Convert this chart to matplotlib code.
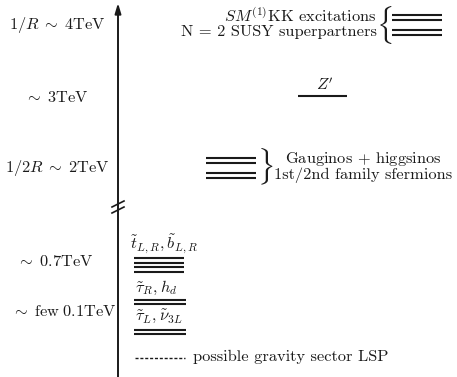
import matplotlib
matplotlib.use("Agg")
import matplotlib.pyplot as plt

plt.rcParams["mathtext.fontset"] = "cm"
plt.rcParams["font.family"] = ["cmr10", "DejaVu Serif"]

# Energy scale labels on the left of the mass axis
scale_labels = [r"$1/R\;\sim\;4\mathrm{TeV}$", r"$\sim\;3\mathrm{TeV}$",
                r"$1/2R\;\sim\;2\mathrm{TeV}$", r"$\sim\;0.7\mathrm{TeV}$",
                r"$\sim\;\mathrm{few}\;0.1\mathrm{TeV}$"]
scale_levels = [25, 98, 168, 262, 311]

# Spectrum level groups (schematic heights)
kk_levels = [15, 20, 30, 35]
zprime_levels = [96]
gaugino_levels = [158, 163, 173, 178]
stop_levels = [258, 263, 267, 272]
stauR_levels = [300, 304]
stauL_levels = [330, 334]
lsp_level = 358

fig = plt.figure(figsize=(4.57, 3.77), dpi=100)
ax = fig.add_axes([0, 0, 1, 1])
ax.set_xlim(0, 457)
ax.set_ylim(377, 0)
ax.axis("off")

ink = "#1a1a1a"
fs = 11.8

# Vertical mass axis with arrow head
ax.annotate("", xy=(118, 3), xytext=(118, 377),
            arrowprops=dict(arrowstyle="-|>,head_length=0.6,head_width=0.18",
                            color=ink, lw=1.4, shrinkA=0, shrinkB=0))
# Axis break marks
for yb in (204, 210):
    ax.plot([112, 124], [yb + 3, yb - 3], color=ink, lw=1.2)

for lab, y, x in zip(scale_labels, scale_levels, [57, 57, 57, 55, 64]):
    ax.text(x, y, lab, ha="center", va="center", fontsize=fs, color=ink)


def draw_levels(levels, x0, x1, lw=1.5):
    for y in levels:
        ax.plot([x0, x1], [y, y], color=ink, lw=lw, solid_capstyle="butt")


draw_levels(kk_levels, 392, 442)
draw_levels(zprime_levels, 298, 347)
draw_levels(gaugino_levels, 206, 256)
draw_levels(stop_levels, 134, 184)
draw_levels(stauR_levels, 134, 186)
draw_levels(stauL_levels, 134, 186)
ax.plot([135, 185], [lsp_level, lsp_level], color=ink, lw=1.0,
        linestyle=(0, (2.2, 1.3)))

# Labels for the level groups
ax.text(377, 16, r"$SM^{(1)}$KK excitations", ha="right", va="center",
        fontsize=fs, color=ink)
ax.text(377, 32, "N = 2 SUSY superpartners", ha="right", va="center",
        fontsize=fs, color=ink)
ax.text(384, 25, r"$\{$", ha="center", va="center", fontsize=22, color=ink)

ax.text(325, 84, r"$Z'$", ha="center", va="center", fontsize=fs, color=ink)

ax.text(265, 167, r"$\}$", ha="center", va="center", fontsize=22, color=ink)
ax.text(363, 159, r"Gauginos $+$ higgsinos", ha="center", va="center",
        fontsize=fs, color=ink)
ax.text(363, 175, "1st/2nd family sfermions", ha="center", va="center",
        fontsize=fs, color=ink)

ax.text(130, 244, r"$\tilde{t}_{L,R},\tilde{b}_{L,R}$", ha="left",
        va="center", fontsize=fs, color=ink)
ax.text(135, 288, r"$\tilde{\tau}_R,h_d$", ha="left", va="center",
        fontsize=fs, color=ink)
ax.text(135, 316, r"$\tilde{\tau}_L,\tilde{\nu}_{3L}$", ha="left",
        va="center", fontsize=fs, color=ink)

ax.text(193, 357, "possible gravity sector LSP", ha="left", va="center",
        fontsize=fs, color=ink)

fig.savefig("out.png", dpi=100)
